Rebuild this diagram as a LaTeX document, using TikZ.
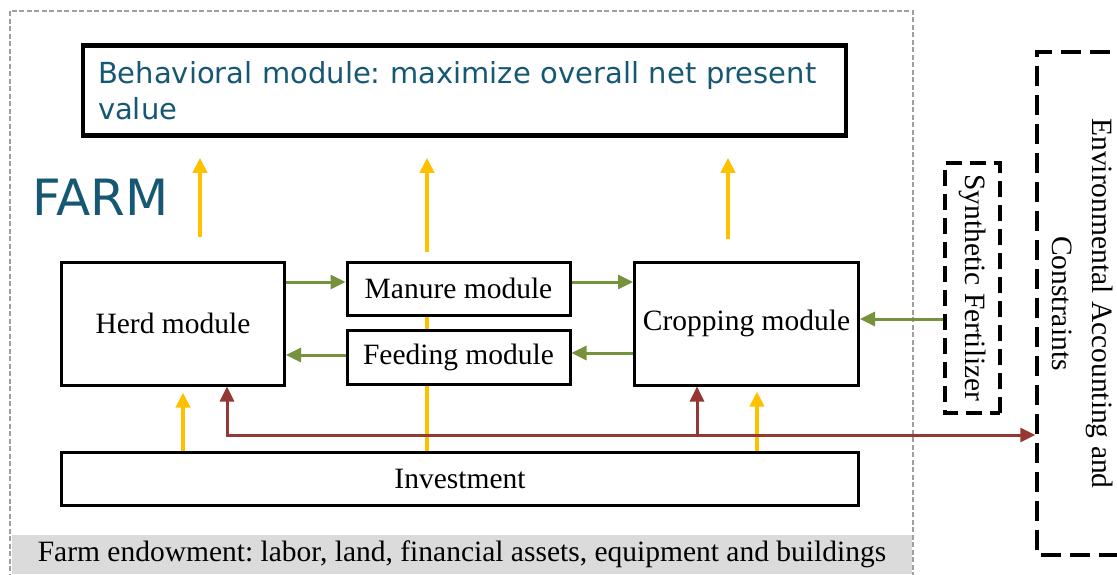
\documentclass[tikz,border=0pt]{standalone}
\usepackage{fontspec}
\setmainfont{Liberation Serif}
\newfontfamily\behavfont{DejaVu Sans}
\usetikzlibrary{arrows.meta,backgrounds}
\definecolor{farmteal}{RGB}{22,88,115}
\definecolor{flowyellow}{RGB}{255,192,0}
\definecolor{flowgreen}{RGB}{118,146,60}
\definecolor{flowred}{RGB}{150,55,52}
\frenchspacing

\begin{document}
\begin{tikzpicture}[x=1pt,y=-1pt,
  >={Triangle[length=15pt,width=14pt]},
  module/.style={draw,line width=3pt,fill=white,inner sep=0pt,font=\fontsize{29.5pt}{34pt}\selectfont},
  dashbox/.style={draw,line width=3.5pt,dash pattern=on 20pt off 9pt,inner sep=0pt,font=\fontsize{29.5pt}{40pt}\selectfont},
  yarrow/.style={flowyellow,line width=4pt,->},
  garrow/.style={flowgreen,line width=3pt,->},
  rarrow/.style={flowred,line width=3pt}]
  \useasboundingbox (0,0) rectangle (1117,574);

  % farm frame and endowment band
  \node[fill=gray!28,inner sep=0pt,minimum width=900pt,minimum height=39pt,font=\fontsize{29.5pt}{34pt}\selectfont] (endow) at (462,554.5) {Farm endowment: labor, land, financial assets, equipment and buildings};
  \draw[gray!75,line width=1.8pt,dash pattern=on 5pt off 2.5pt] (10,11) rectangle (913,600);

  % behavioral module
  \node[draw,line width=4.5pt,inner sep=0pt,minimum width=763pt,minimum height=90pt,text width=733pt,align=left,text=farmteal,font=\behavfont\fontsize{29pt}{36pt}\selectfont] (behav) at (464.5,90.5) {Behavioral module: maximize overall net present\\value};
  \node[anchor=west,inner sep=0pt,text=farmteal,font=\behavfont\fontsize{50pt}{50pt}\selectfont] (farm) at (32,197.5) {FARM};

  % modules
  \node[module,minimum width=223pt,minimum height=123pt] (herd) at (173,323.5) {Herd module};
  \node[module,minimum width=223pt,minimum height=53pt] (manure) at (458.5,288.5) {Manure module};
  \node[module,minimum width=223pt,minimum height=54pt] (feeding) at (458.5,357) {Feeding module};
  \node[module,minimum width=224pt,minimum height=123pt] (crop) at (746.5,323.5) {Cropping module};
  \node[module,minimum width=797pt,minimum height=53pt] (invest) at (460,478.5) {Investment};

  % outside the farm
  \node[dashbox,dash pattern=on 16pt off 8pt,rotate=-90,minimum width=250pt,minimum height=55pt] (synth) at (972.5,288) {Synthetic Fertilizer};
  \node[dashbox,rotate=-90,minimum width=503pt,minimum height=92pt,align=center] (env) at (1083,303.5) {Environmental Accounting and\\Constraints};

  % yellow flows
  \begin{scope}[on background layer]
    \draw[flowyellow,line width=4pt] (invest.north -| 427,0) -- (manure.north -| 427,0);
  \end{scope}
  \coordinate (up1) at (200,237);
  \coordinate (up2) at (427,252);
  \coordinate (up3) at (728,239);
  \foreach \p in {up1,up2,up3}
    \draw[yarrow,shorten >=20pt] (\p) -- (behav.south -| \p);
  \draw[yarrow,shorten >=6pt] (invest.north -| 183,0) -- (herd.south -| 183,0);
  \draw[yarrow,shorten >=5pt] (invest.north -| 757,0) -- (crop.south -| 757,0);

  % green flows
  \draw[garrow] (herd.east |- 0,282) -- (manure.west |- 0,282);
  \draw[garrow] (manure.east |- 0,282) -- (crop.west |- 0,282);
  \draw[garrow] (crop.west |- 0,353) -- (feeding.east |- 0,353);
  \draw[garrow] (feeding.west |- 0,355) -- (herd.east |- 0,355);
  \draw[garrow] (synth.south |- 0,319) -- (crop.east |- 0,319);

  % red flows
  \coordinate (rsplit) at (697,435);
  \draw[rarrow,<->] (herd.south -| 227,0) |- (env.south |- rsplit);
  \draw[rarrow,->] (rsplit) -- (crop.south -| rsplit);
\end{tikzpicture}
\end{document}
